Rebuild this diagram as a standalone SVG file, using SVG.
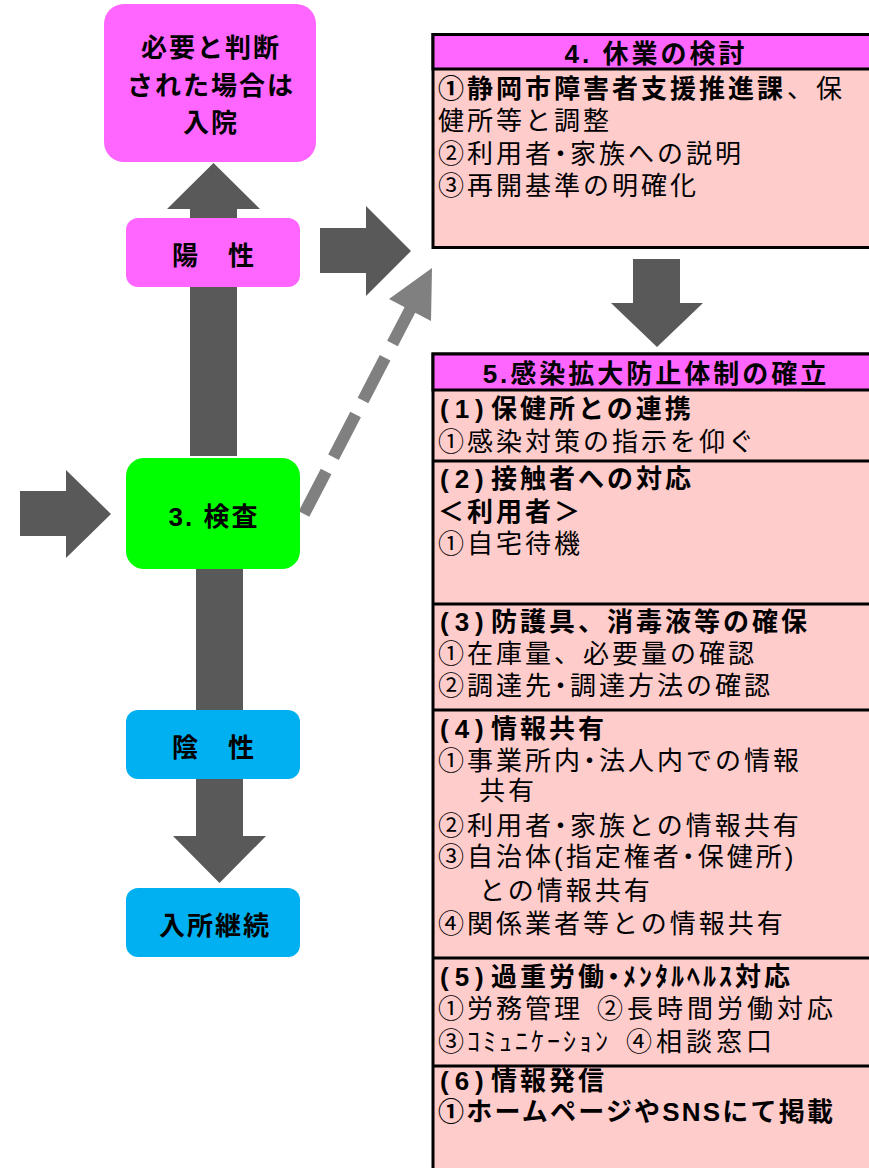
<svg xmlns="http://www.w3.org/2000/svg" width="869" height="1168" viewBox="0 0 869 1168">
<style>
.t{font-family:"Liberation Sans","Noto Sans CJK JP","Noto Sans CJK SC",sans-serif;font-size:26px;letter-spacing:3px;fill:#000}
.b{font-weight:700}
.l{font-family:"Liberation Sans","Noto Sans CJK JP","Noto Sans CJK SC",sans-serif;font-size:26px;font-weight:700;letter-spacing:2px;fill:#000;text-anchor:middle}
.h{text-anchor:middle}
.p{letter-spacing:6px}
.w{letter-spacing:4px}
.ha{font-feature-settings:"halt"}
.arr{fill:#595959}
.box{stroke:#000;stroke-width:3}
.body{fill:#FFCCCC}
.head{fill:#FF66FF}
.div{stroke:#000;stroke-width:3}
</style>
<rect width="869" height="1168" fill="#fff"/>
<g id="connectors">
<polygon class="arr" points="190,456 190,209 167,209 213.5,163 260,209 237,209 237,456"/>
<polygon class="arr" points="320,228 366,228 366,206 411,251 366,296 366,273 320,273"/>
<polygon class="arr" points="20,491 66,491 66,470 111,514 66,558 66,536 20,536"/>
<polygon class="arr" points="196,569 243,569 243,836 266,836 219.5,883 173,836 196,836"/>
<polygon class="arr" points="633,259 680,259 680,303 703,303 657,347 611,303 633,303"/>
<line x1="304" y1="514" x2="412" y2="306" stroke="#808080" stroke-width="12" stroke-dasharray="48 16"/>
<polygon fill="#808080" points="432,268 431,321 389,299"/>
</g>
<g id="node-hospital">
<rect x="104" y="4" width="212" height="158" rx="20" fill="#FF66FF"/>
<text class="l" x="211" y="57">必要と判断</text>
<text class="l" x="211" y="95">された場合は</text>
<text class="l" x="211" y="132">入院</text>
</g>
<g id="node-positive">
<rect x="126" y="218" width="174" height="69" rx="12" fill="#FF66FF"/>
<text class="l" x="214" y="265">陽　性</text>
</g>
<g id="node-test">
<rect x="126" y="458" width="174" height="111" rx="18" fill="#00FF00"/>
<text class="l" x="214" y="526">3. 検査</text>
</g>
<g id="node-negative">
<rect x="126" y="710" width="174" height="69" rx="12" fill="#00B0F0"/>
<text class="l" x="214" y="757">陰　性</text>
</g>
<g id="node-continue">
<rect x="126" y="888" width="174" height="69" rx="12" fill="#00B0F0"/>
<text class="l" x="215" y="935">入所継続</text>
</g>
<g id="node-closure">
<rect class="box body" x="433" y="34.5" width="460" height="213"/>
<rect class="box head" x="433" y="34.5" width="460" height="34.5"/>
<text class="t b h" x="656" y="63">4. 休業の検討</text>
<text class="t b" x="438" y="98">①静岡市障害者支援推進課</text>
<text class="t" x="787" y="98">、保</text>
<text class="t" x="438" y="130">健所等と調整</text>
<text class="t ha" x="438" y="163">②利用者・家族への説明</text>
<text class="t" x="438" y="195">③再開基準の明確化</text>
</g>
<g id="node-prevention">
<rect class="box body" x="433" y="354" width="460" height="830"/>
<rect class="box head" x="433" y="354" width="460" height="36"/>
<text class="t b h" x="656" y="383">5.感染拡大防止体制の確立</text>
<line class="div" x1="433" y1="461" x2="893" y2="461"/>
<line class="div" x1="433" y1="604" x2="893" y2="604"/>
<line class="div" x1="433" y1="710" x2="893" y2="710"/>
<line class="div" x1="433" y1="958" x2="893" y2="958"/>
<line class="div" x1="433" y1="1066" x2="893" y2="1066"/>
<text class="t b p" x="440" y="418">(1)</text>
<text class="t b" x="491" y="418">保健所との連携</text>
<text class="t" x="438" y="451">①感染対策の指示を仰ぐ</text>
<text class="t b p" x="440" y="488">(2)</text>
<text class="t b" x="491" y="488">接触者への対応</text>
<text class="t b" x="438" y="521">＜利用者＞</text>
<text class="t" x="438" y="553">①自宅待機</text>
<text class="t b p" x="440" y="631">(3)</text>
<text class="t b" x="491" y="631">防護具、消毒液等の確保</text>
<text class="t" x="438" y="663">①在庫量、必要量の確認</text>
<text class="t ha" x="438" y="695">②調達先・調達方法の確認</text>
<text class="t b p" x="440" y="738">(4)</text>
<text class="t b" x="491" y="738">情報共有</text>
<text class="t ha" x="438" y="770">①事業所内・法人内での情報</text>
<text class="t" x="479" y="800">共有</text>
<text class="t ha" x="438" y="835">②利用者・家族との情報共有</text>
<text class="t ha" x="438" y="866">③自治体(指定権者・保健所)</text>
<text class="t" x="479" y="900">との情報共有</text>
<text class="t" x="438" y="933">④関係業者等との情報共有</text>
<text class="t b p" x="440" y="986">(5)</text>
<text class="t b ha" x="491" y="986">過重労働・ﾒﾝﾀﾙﾍﾙｽ対応</text>
<text class="t" x="438" y="1018">①労務管理</text>
<text class="t w" x="597" y="1018">②長時間労働対応</text>
<text class="t" x="438" y="1051">③ｺﾐｭﾆｹｰｼｮﾝ</text>
<text class="t w" x="626" y="1051">④相談窓口</text>
<text class="t b p" x="440" y="1090">(6)</text>
<text class="t b" x="491" y="1090">情報発信</text>
<text class="t b" x="438" y="1121" style="letter-spacing:2.2px">①ホームページやSNSにて掲載</text>
</g>
</svg>
